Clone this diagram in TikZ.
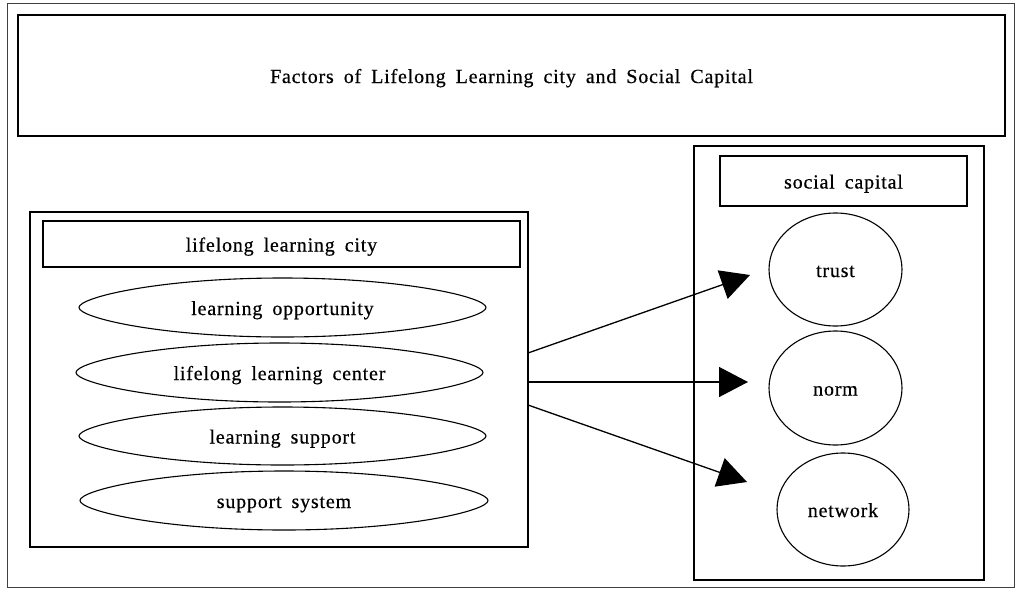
\documentclass[tikz,border=0pt]{standalone}
\usepackage{fontspec}
\setmainfont{Liberation Serif}[LetterSpace=4, FakeBold=0.5]
\usetikzlibrary{shapes.geometric,arrows.meta,calc}

% label font: Times-like, slightly tracked, with wide word gaps
\newcommand\lblfont{\fontsize{20}{24}\selectfont\spaceskip=0.5em plus 0.1em\relax}

% outline of a long lens-like oval with tapered ends around node #1
% (#2 = half width, #3 = half height)
\newcommand\lensoutline[3]{%
  \draw[ovalline] (#1.west)
    .. controls +(0,-0.35*#3) and +(-0.6*#2,0) .. (#1.north)
    .. controls +(0.6*#2,0) and +(0,-0.35*#3) .. (#1.east)
    .. controls +(0,0.35*#3) and +(0.6*#2,0) .. (#1.south)
    .. controls +(-0.6*#2,0) and +(0,0.35*#3) .. cycle;}

\tikzset{
  every node/.style={font=\lblfont, text height=16pt, text depth=1pt,
                     inner sep=0pt, outer sep=0pt},
  framebox/.style={draw, rectangle, line width=1.4pt},
  oval/.style={draw, ellipse, line width=1.1pt},
  lens/.style={ellipse},
  ovalline/.style={line width=1.1pt},
  link/.style={line width=1.3pt, -{Triangle[length=29pt,width=30pt]}},
  page/.style={draw=black!75, line width=0.8pt},
}

\begin{document}
\begin{tikzpicture}[x=1pt, y=-1pt]
  \useasboundingbox (0,0) rectangle (1018,592);

  % surrounding frame
  \draw[page] (7,3) rectangle (1014,587);

  % heading
  \node[framebox, minimum width=987pt, minimum height=121pt] (title) at (511.5,75.5)
    {Factors of Lifelong Learning city and Social Capital};

  % lifelong learning city group
  \node[framebox, minimum width=498pt, minimum height=335pt] (lbox) at (279,379.5) {};
  \node[framebox, minimum width=477pt, minimum height=46pt] (lhead) at (281.5,244)
    {lifelong learning city};
  \node[lens, minimum width=407pt, minimum height=59pt] (opp) at (282.5,307.5)
    {learning opportunity};
  \node[lens, minimum width=407pt, minimum height=59pt] (center) at (279.5,372.5)
    {lifelong learning center};
  \node[lens, minimum width=407pt, minimum height=58pt] (supp) at (282.5,436)
    {learning support};
  \node[lens, minimum width=408pt, minimum height=59pt] (sys) at (284,500.5)
    {support system};
  \lensoutline{opp}{203.5}{29.5}
  \lensoutline{center}{203.5}{29.5}
  \lensoutline{supp}{203.5}{29}
  \lensoutline{sys}{204}{29.5}

  % social capital group
  \node[framebox, minimum width=290pt, minimum height=434pt] (rbox) at (839,363) {};
  \node[framebox, minimum width=247pt, minimum height=50pt] (rhead) at (843.5,181)
    {social capital};
  \node[oval, minimum width=133pt, minimum height=113pt] (trust) at (835.5,269.5) {trust};
  \node[oval, minimum width=133pt, minimum height=114pt] (norm) at (835.5,388) {norm};
  \node[oval, minimum width=132pt, minimum height=113pt] (network) at (843,509.5) {network};

  % arrow ends, just short of the three circles
  \coordinate (tipT) at (750,275);
  \coordinate (tipN) at (748,382);
  \coordinate (tipW) at (747,482);

  \draw[link] ($(lbox.east)+(0,-26.5)$) -- (tipT);
  \draw[link] ($(lbox.east)+(0,2.5)$) -- (tipN);
  \draw[link] ($(lbox.east)+(0,25.5)$) -- (tipW);
\end{tikzpicture}
\end{document}
